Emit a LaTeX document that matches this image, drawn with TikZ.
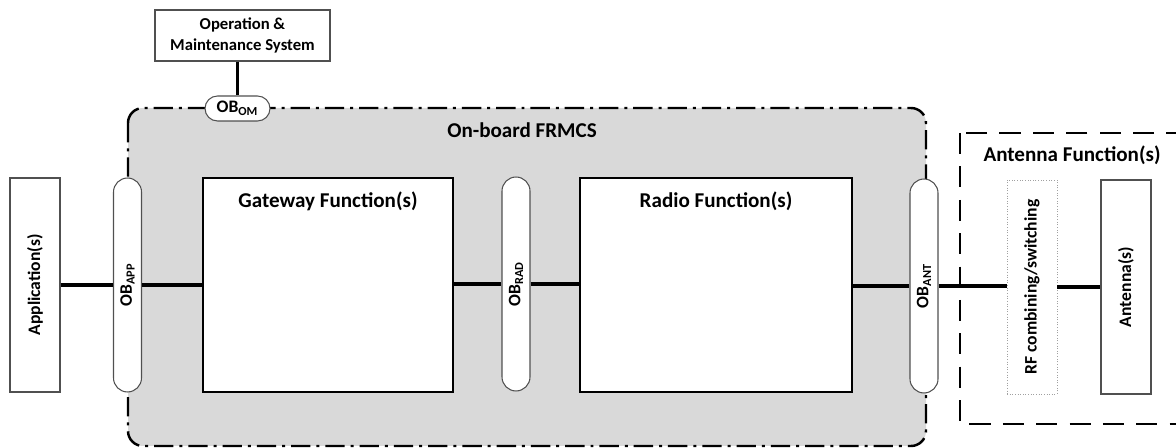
\documentclass[tikz,border=0pt]{standalone}
\usepackage{fontspec}
\setmainfont{Carlito}
\usepackage{tikz}
\usetikzlibrary{positioning}
\definecolor{shade}{HTML}{D9D9D9}
\definecolor{edge}{HTML}{505050}
\definecolor{faint}{HTML}{A0A0A0}
\tikzset{
  funcbox/.style={
    draw=black, line width=1.2pt, fill=white,
    minimum width=5cm, minimum height=4.28cm, inner sep=0pt},
  tallbox/.style={
    draw=edge, line width=0.6pt, fill=white,
    minimum width=1cm, minimum height=4.28cm, inner sep=0pt,
    font=\bfseries\fontsize{10}{12}\selectfont},
  pillv/.style={
    draw=edge, line width=0.6pt, fill=white, rounded corners=0.28cm,
    minimum width=0.56cm, minimum height=4.28cm, inner sep=0pt,
    font=\bfseries\fontsize{10}{12}\selectfont},
  pillh/.style={
    draw=edge, line width=0.6pt, fill=white, rounded corners=0.25cm,
    minimum width=1.3cm, minimum height=0.5cm, inner sep=0pt,
    font=\bfseries\fontsize{10}{12}\selectfont},
  sysbox/.style={
    draw=edge, line width=0.6pt, fill=white, align=center,
    minimum width=3.5cm, minimum height=1.02cm, inner sep=2pt,
    font=\bfseries\fontsize{9.5}{11.5}\selectfont},
  title/.style={font=\bfseries\fontsize{12}{14}\selectfont, inner sep=0pt},
  link/.style={draw=black, line width=2pt},
  onboard/.style={
    draw=black, line width=1.4pt, fill=shade, rounded corners=0.3cm,
    dash pattern=on 11pt off 3.4pt on 1.7pt off 3.4pt},
  antarea/.style={
    draw=black, line width=1.3pt, dash pattern=on 12pt off 7pt},
}

\begin{document}
\begin{tikzpicture}[x=0.02cm, y=-0.02cm]
  \useasboundingbox (0,0) rectangle (1176,448);

  % containers
  \draw[onboard] (128,108) rectangle (926,446);
  \node[title] (obtitle) at (522,130) {On-board FRMCS};
  \draw[antarea] (960,133) rectangle (1200,424);
  \node[title] (anttitle) at (1072,155) {Antenna Function(s)};

  % on-board functions
  \node[funcbox] (gw) at (328,285) {};
  \node[title, below=0.3cm of gw.north] (gwtitle) {Gateway Function(s)};
  \node[funcbox, minimum width=5.44cm] (radio) at (716,285) {};
  \node[title, below=0.3cm of radio.north] (radiotitle) {Radio Function(s)};

  % reference points
  \node[pillv] (obapp) at (127.5,285) {\rotatebox{90}{OB\textsubscript{APP}}};
  \node[pillv] (obrad) at (516,284) {\rotatebox{90}{OB\textsubscript{RAD}}};
  \node[pillv] (obant) at (924,286) {\rotatebox{90}{OB\textsubscript{ANT}}};
  \node[pillh] (obom) at (237.5,108.5) {OB\textsubscript{OM}};

  % outside
  \node[sysbox] (om) at (242.5,35.5) {Operation \&\\Maintenance System};
  \node[tallbox] (app) at (35,285) {\rotatebox{90}{Application(s)}};
  \node[tallbox, draw=faint, line width=0.5pt, densely dotted] (rf) at (1032,287)
    {\rotatebox{90}{RF combining/switching}};
  \node[tallbox] (ant) at (1126,287) {\rotatebox{90}{Antenna(s)}};

  % links
  \draw[link] (om.south -| obom.north) -- (obom.north);
  \draw[link] (app.east) -- (obapp.west);
  \draw[link] (obapp.east) -- (gw.west);
  \draw[link] (gw.east |- obrad.west) -- (obrad.west);
  \draw[link] (obrad.east) -- (radio.west |- obrad.east);
  \draw[link] (radio.east |- obant.west) -- (obant.west);
  \draw[link] (obant.east) -- (rf.west |- obant.east);
  \draw[link] (rf.east) -- (ant.west);

\end{tikzpicture}
\end{document}
